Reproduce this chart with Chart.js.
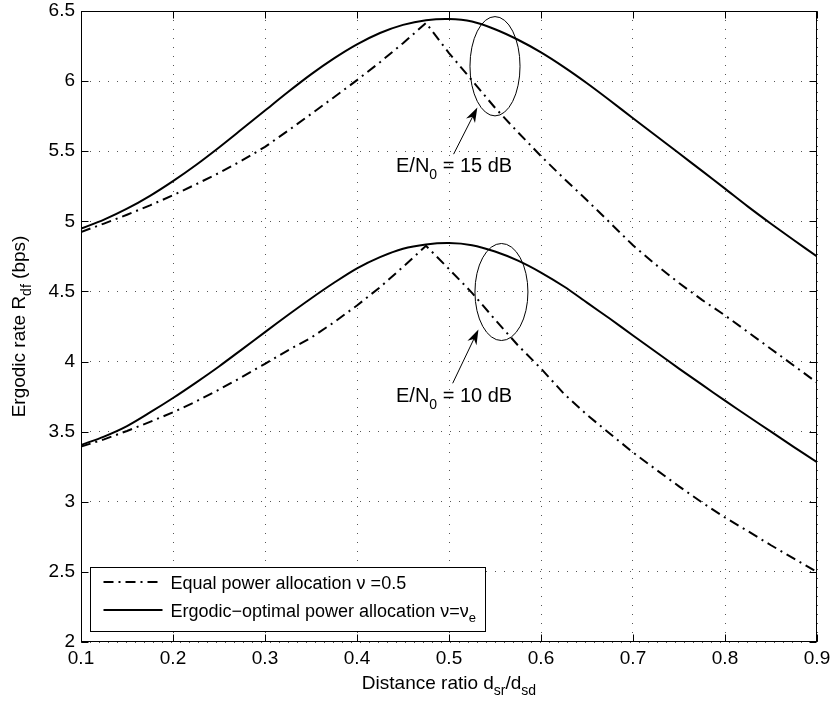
<!DOCTYPE html>
<html><head><meta charset="utf-8">
<script src="https://cdn.jsdelivr.net/npm/chart.js@4.4.0/dist/chart.umd.min.js"></script>
<style>html,body{margin:0;padding:0;background:#fff}canvas{display:block}</style>
</head><body>
<canvas id="c" width="833" height="706"></canvas>
<script>
// ---------- data ----------
const distanceRatio = [0.1,0.125,0.15,0.175,0.2,0.225,0.25,0.275,0.3,0.325,0.35,0.375,0.4,0.425,0.45,0.475,0.5,0.525,0.55,0.575,0.6,0.625,0.65,0.675,0.7,0.725,0.75,0.775,0.8,0.825,0.85,0.875,0.9];
const equal15 = [4.924,4.984,5.047,5.114,5.186,5.264,5.345,5.434,5.531,5.646,5.765,5.885,6.007,6.135,6.27,6.415,6.2,6.005,5.81,5.635,5.465,5.305,5.15,4.99,4.829,4.69,4.56,4.44,4.329,4.21,4.09,3.97,3.85];
const optimal15 = [4.948,5.012,5.09,5.182,5.287,5.402,5.527,5.658,5.79,5.922,6.048,6.162,6.262,6.343,6.401,6.434,6.443,6.425,6.37,6.295,6.205,6.1,5.985,5.862,5.735,5.61,5.485,5.36,5.233,5.105,4.983,4.865,4.75];
const equal10 = [3.393,3.445,3.505,3.57,3.638,3.715,3.8,3.89,3.984,4.08,4.17,4.28,4.4,4.53,4.675,4.825,4.66,4.49,4.3,4.115,3.95,3.77,3.62,3.485,3.352,3.23,3.11,2.995,2.888,2.79,2.69,2.595,2.5];
const optimal10 = [3.405,3.465,3.54,3.637,3.74,3.85,3.965,4.087,4.21,4.332,4.45,4.562,4.665,4.745,4.805,4.835,4.845,4.83,4.785,4.72,4.635,4.535,4.42,4.305,4.186,4.068,3.95,3.835,3.721,3.61,3.5,3.39,3.283];
const xTickValues = [0.1,0.2,0.3,0.4,0.5,0.6,0.7,0.8,0.9];
const yTickValues = [2,2.5,3,3.5,4,4.5,5,5.5,6,6.5];
const legendLabels = [
  [{t:'Equal power allocation \u03bd =0.5'}],
  [{t:'Ergodic\u2212optimal power allocation \u03bd=\u03bd'},{t:'e',sub:true}]
];
const xTitle = [{t:'Distance ratio d'},{t:'sr',sub:true},{t:'/d'},{t:'sd',sub:true}];
const yTitle = [{t:'Ergodic rate R'},{t:'df',sub:true},{t:' (bps)'}];
// annotations (data coordinates)
const ellipses = [{cx:0.55,cy:6.106,rx:0.0272,ry:0.354},{cx:0.557,cy:4.496,rx:0.0288,ry:0.346}];
const arrows = [{x1:0.505,y1:5.479,x2:0.5308,y2:5.812},{x1:0.504,y1:3.845,x2:0.532,y2:4.229}];
const notes = [
  {x:0.4424,y:5.352,parts:[{t:'E/N'},{t:'0',sub:true},{t:' = 15 dB'}]},
  {x:0.4424,y:3.709,parts:[{t:'E/N'},{t:'0',sub:true},{t:' = 10 dB'}]}
];

const FONT = '"Liberation Sans", Arial, Helvetica, sans-serif';
const FS = 19;
const LEG_FS = 18;
const pts = arr => arr.map((v,i)=>({x:distanceRatio[i], y:v}));

function richWidth(ctx, parts, size){
  let w=0;
  for(const p of parts){ ctx.font = (p.sub?Math.round(size*0.72):size)+'px '+FONT; w+=ctx.measureText(p.t).width; }
  return w;
}
function drawRich(ctx, parts, x, y, size, align){
  let w = richWidth(ctx, parts, size);
  let cx = align==='center' ? x-w/2 : x;
  ctx.textBaseline='alphabetic'; ctx.textAlign='left'; ctx.fillStyle='#000';
  for(const p of parts){
    const s = p.sub?Math.round(size*0.72):size;
    ctx.font = s+'px '+FONT;
    ctx.fillText(p.t, cx, y + (p.sub? size*0.33 : 0));
    cx += ctx.measureText(p.t).width;
  }
}

const decor = {
  id:'decor',
  afterDatasetsDraw(chart){
    const {ctx, chartArea:a, scales:{x,y}} = chart;
    ctx.save();
    const L=Math.round(a.left)+0.5, R=Math.round(a.right)-0.5, T=Math.round(a.top)+0.5, B=Math.round(a.bottom)-0.5;
    ctx.strokeStyle='#000'; ctx.lineWidth=1; ctx.setLineDash([]);
    ctx.strokeRect(L, T, R-L, B-T);
    const tl=7;
    ctx.beginPath();
    for(const v of xTickValues){ const p=Math.round(x.getPixelForValue(v))+0.5; ctx.moveTo(p,B); ctx.lineTo(p,B-tl); ctx.moveTo(p,T); ctx.lineTo(p,T+tl); }
    for(const v of yTickValues){ const p=Math.round(y.getPixelForValue(v))+0.5; ctx.moveTo(L,p); ctx.lineTo(L+tl,p); ctx.moveTo(R,p); ctx.lineTo(R-tl,p); }
    ctx.stroke();
    // ellipses
    ctx.lineWidth=1;
    for(const e of ellipses){
      const cx=x.getPixelForValue(e.cx), cy=y.getPixelForValue(e.cy);
      const rx=Math.abs(x.getPixelForValue(e.cx+e.rx)-cx), ry=Math.abs(y.getPixelForValue(e.cy+e.ry)-cy);
      ctx.beginPath(); ctx.ellipse(cx,cy,rx,ry,0,0,Math.PI*2); ctx.stroke();
    }
    // arrows
    for(const ar of arrows){
      const x1=x.getPixelForValue(ar.x1), y1=y.getPixelForValue(ar.y1), x2=x.getPixelForValue(ar.x2), y2=y.getPixelForValue(ar.y2);
      const ang=Math.atan2(y2-y1,x2-x1), hl=15, hw=5;
      ctx.beginPath(); ctx.moveTo(x1,y1); ctx.lineTo(x2-Math.cos(ang)*8,y2-Math.sin(ang)*8); ctx.stroke();
      const bx=x2-Math.cos(ang)*hl, by=y2-Math.sin(ang)*hl;
      const nx=-Math.sin(ang), ny=Math.cos(ang);
      const mx=x2-Math.cos(ang)*hl*0.7, my=y2-Math.sin(ang)*hl*0.7;
      ctx.beginPath(); ctx.moveTo(x2,y2); ctx.lineTo(bx+nx*hw,by+ny*hw); ctx.lineTo(mx,my); ctx.lineTo(bx-nx*hw,by-ny*hw); ctx.closePath();
      ctx.fillStyle='#000'; ctx.fill();
    }
    // notes
    for(const n of notes){ drawRich(ctx, n.parts, x.getPixelForValue(n.x), y.getPixelForValue(n.y), 20, 'left'); }
    // legend
    const tw = Math.max(...legendLabels.map(p=>richWidth(ctx,p,LEG_FS)));
    const lx=Math.round(a.left)+9.5, lw=Math.round(80+tw+10), lh=64, ly=Math.round(a.bottom)-10.5-lh;
    ctx.fillStyle='#fff'; ctx.fillRect(lx,ly,lw,lh);
    ctx.strokeStyle='#000'; ctx.lineWidth=1; ctx.strokeRect(lx,ly,lw,lh);
    const ds = chart.data.datasets;
    const rowsY=[ly+14.5, ly+42.5];
    const samples=[ds[0], ds[1]];
    for(let i=0;i<2;i++){
      ctx.beginPath(); ctx.lineWidth=2; ctx.strokeStyle='#000';
      ctx.setLineDash(samples[i].borderDash||[]);
      ctx.moveTo(lx+13,rowsY[i]); ctx.lineTo(lx+72,rowsY[i]); ctx.stroke();
      ctx.setLineDash([]);
      drawRich(ctx, legendLabels[i], lx+80, rowsY[i]+6.5, LEG_FS, 'left');
    }
    // axis titles
    drawRich(ctx, xTitle, (a.left+a.right)/2, 689, FS, 'center');
    ctx.save(); ctx.translate(25,(a.top+a.bottom)/2); ctx.rotate(-Math.PI/2);
    drawRich(ctx, yTitle, 0, 0, FS, 'center'); ctx.restore();
    ctx.restore();
  }
};

new Chart(document.getElementById('c'), {
  type:'line',
  data:{datasets:[
    {label:'Equal power allocation', data:pts(equal15), borderColor:'#000', borderWidth:2, borderDash:[10,5,2,5], pointRadius:0, tension:0, fill:false},
    {label:'Ergodic-optimal power allocation', data:pts(optimal15), borderColor:'#000', borderWidth:2, pointRadius:0, tension:0.3, fill:false},
    {label:'Equal power allocation 10 dB', data:pts(equal10), borderColor:'#000', borderWidth:2, borderDash:[10,5,2,5], pointRadius:0, tension:0, fill:false},
    {label:'Ergodic-optimal power allocation 10 dB', data:pts(optimal10), borderColor:'#000', borderWidth:2, pointRadius:0, tension:0.3, fill:false}
  ]},
  options:{
    responsive:false, animation:false, devicePixelRatio:1,
    layout:{padding:{top:11,right:16,left:0,bottom:0}},
    plugins:{legend:{display:false}, tooltip:{enabled:false}},
    scales:{
      x:{type:'linear', min:0.1, max:0.9,
        afterBuildTicks:s=>{s.ticks=xTickValues.map(v=>({value:v}));},
        afterFit:s=>{s.height=64; s.paddingLeft=0; s.paddingRight=0;},
        ticks:{color:'#000', font:{family:FONT,size:FS}, padding:5, maxRotation:0, autoSkip:false, callback:v=>v.toFixed(1)},
        grid:{color:'#555', lineWidth:1, drawTicks:false},
        border:{display:false, dash:[1,8]}},
      y:{type:'linear', min:2, max:6.5,
        afterBuildTicks:s=>{s.ticks=yTickValues.map(v=>({value:v}));},
        afterFit:s=>{s.width=81; s.paddingTop=0; s.paddingBottom=0;},
        ticks:{color:'#000', font:{family:FONT,size:FS}, padding:6, autoSkip:false, callback:v=>String(v)},
        grid:{color:'#555', lineWidth:1, drawTicks:false},
        border:{display:false, dash:[1,8]}}
    }
  },
  plugins:[decor]
});
</script>
</body></html>
